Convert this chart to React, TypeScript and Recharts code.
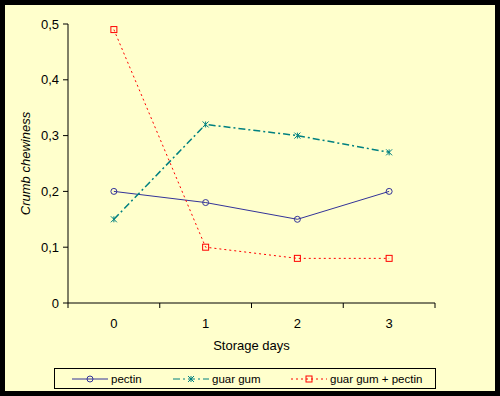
import { LineChart, Line, XAxis, YAxis, Legend } from "recharts";

const days = [0, 1, 2, 3];
const pectin = [0.2, 0.18, 0.15, 0.2];
const guarGum = [0.15, 0.32, 0.3, 0.27];
const guarPectin = [0.49, 0.1, 0.08, 0.08];
const yTicks = [0, 0.1, 0.2, 0.3, 0.4, 0.5];
// half steps are the category boundaries (tick marks), whole steps carry the labels
const xTicks = [-0.5, 0, 0.5, 1, 1.5, 2, 2.5, 3, 3.5];

const data = days.map((day, i) => ({
  day,
  pectin: pectin[i],
  guarGum: guarGum[i],
  guarPectin: guarPectin[i],
}));

const FONT = "'Liberation Sans', Arial, sans-serif";
const NAVY = "#333399";
const TEAL = "#008080";
const RED = "#ff0000";

type MarkerKind = "circle" | "star" | "square";

function Marker({ kind, cx, cy, color }: { kind: MarkerKind; cx: number; cy: number; color: string }) {
  if (kind === "circle") {
    return <circle cx={cx} cy={cy} r={3} fill="none" stroke={color} strokeWidth={1} />;
  }
  if (kind === "square") {
    return <rect x={cx - 3} y={cy - 3} width={6} height={6} fill="none" stroke={color} strokeWidth={1} />;
  }
  return (
    <g stroke={color} strokeWidth={1}>
      <line x1={cx - 3} y1={cy - 3} x2={cx + 3} y2={cy + 3} />
      <line x1={cx - 3} y1={cy + 3} x2={cx + 3} y2={cy - 3} />
      <line x1={cx} y1={cy - 3} x2={cx} y2={cy + 3} />
    </g>
  );
}

const series = [
  { key: "pectin", name: "pectin", color: NAVY, dash: undefined, width: 1, marker: "circle" as MarkerKind },
  { key: "guarGum", name: "guar gum", color: TEAL, dash: "7 3 2 3", width: 1.5, marker: "star" as MarkerKind },
  { key: "guarPectin", name: "guar gum + pectin", color: RED, dash: "2 3", width: 1, marker: "square" as MarkerKind },
];

function DayTick({ x, y, payload }: any) {
  const v = payload.value;
  if (!Number.isInteger(v)) {
    return <line x1={x} x2={x} y1={y - 5} y2={y} stroke="#000" />;
  }
  return (
    <text x={x} y={y + 20} textAnchor="middle" fontSize={13} fontFamily={FONT} fill="#000">
      {v}
    </text>
  );
}

function LegendBox() {
  const starts = [72, 173, 291];
  return (
    <div
      style={{
        border: "1px solid #000",
        height: 21,
        boxSizing: "border-box",
        position: "relative",
        fontFamily: FONT,
        fontSize: 11.5,
      }}
    >
      {series.map((s, i) => (
        <div
          key={s.key}
          style={{
            position: "absolute",
            left: starts[i] - 55,
            top: 0,
            height: 19,
            display: "flex",
            alignItems: "center",
            whiteSpace: "nowrap",
          }}
        >
          <svg width={36} height={10}>
            <line x1={0} x2={36} y1={5} y2={5} stroke={s.color} strokeWidth={1} strokeDasharray={s.dash} />
            <Marker kind={s.marker} cx={18} cy={5} color={s.color} />
          </svg>
          <span style={{ marginLeft: 3, color: "#000" }}>{s.name}</span>
        </div>
      ))}
    </div>
  );
}

export default function App() {
  return (
    <div style={{ position: "absolute", left: 0, top: 0, width: 500, height: 396, background: "#000" }}>
      <div style={{ position: "absolute", left: 5, top: 5, width: 490, height: 386, background: "#ffffcc" }} />
      <div style={{ position: "absolute", left: 0, top: 0 }}>
        <LineChart width={500} height={396} data={data} margin={{ top: 24, right: 65, left: 0, bottom: 0 }}>
          <XAxis
            dataKey="day"
            type="number"
            domain={[-0.5, 3.5]}
            ticks={xTicks}
            interval={0}
            height={93}
            tickLine={false}
            tickSize={5}
            tickMargin={0}
            axisLine={{ stroke: "#000" }}
            tick={<DayTick />}
            label={({ viewBox }: any) => (
              <text
                x={viewBox.x + viewBox.width / 2}
                y={viewBox.y + 47}
                textAnchor="middle"
                fontSize={13}
                fontFamily={FONT}
                fill="#000"
              >
                Storage days
              </text>
            )}
          />
          <YAxis
            domain={[0, 0.5]}
            ticks={yTicks}
            interval={0}
            width={68}
            tickSize={5}
            tickMargin={4}
            tickLine={{ stroke: "#000" }}
            axisLine={{ stroke: "#000" }}
            tick={{ fontSize: 13, fontFamily: FONT, fill: "#000" }}
            tickFormatter={(v: number) => String(v).replace(".", ",")}
            label={({ viewBox }: any) => {
              const cx = viewBox.x + 27;
              const cy = viewBox.y + viewBox.height / 2;
              return (
                <text
                  x={cx}
                  y={cy}
                  transform={`rotate(-90 ${cx} ${cy})`}
                  textAnchor="middle"
                  dominantBaseline="middle"
                  fontSize={13}
                  fontStyle="italic"
                  fontFamily={FONT}
                  fill="#000"
                >
                  Crumb chewiness
                </text>
              );
            }}
          />
          <Legend
            layout="horizontal"
            verticalAlign="middle"
            align="center"
            content={() => <LegendBox />}
            wrapperStyle={{ left: 54, top: 368, width: 382, height: 21, right: "auto", bottom: "auto" }}
          />
          {series.map((s) => (
            <Line
              key={s.key}
              dataKey={s.key}
              name={s.name}
              type="linear"
              stroke={s.color}
              strokeWidth={s.width}
              strokeDasharray={s.dash}
              dot={(p: any) => <Marker key={`${s.key}-${p.index}`} kind={s.marker} cx={p.cx} cy={p.cy} color={s.color} />}
              activeDot={false}
              isAnimationActive={false}
            />
          ))}
        </LineChart>
      </div>
    </div>
  );
}
